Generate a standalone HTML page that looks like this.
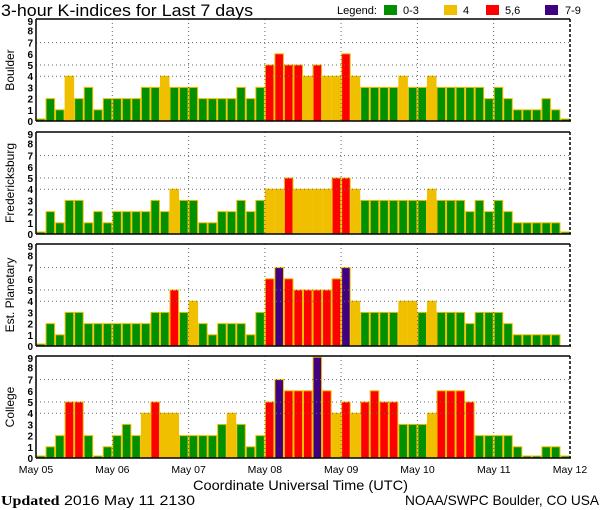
<!DOCTYPE html>
<html><head><meta charset="utf-8"><style>
html,body{margin:0;padding:0;background:#fff;}
svg{display:block;font-family:"Liberation Sans",sans-serif;}
</style></head><body>
<svg id="s" width="600" height="510" xmlns="http://www.w3.org/2000/svg">
<text x="1" y="16" font-size="16.5" textLength="252" lengthAdjust="spacingAndGlyphs" fill="#000">3-hour K-indices for Last 7 days</text>
<text x="337" y="14" font-size="11" textLength="40" lengthAdjust="spacingAndGlyphs">Legend:</text>
<rect x="384" y="5" width="13" height="10" fill="#009000"/><text x="403" y="14" font-size="11">0-3</text>
<rect x="444" y="5" width="13" height="10" fill="#f0c000"/><text x="463" y="14" font-size="11">4</text>
<rect x="486" y="5" width="13" height="10" fill="#ff0000"/><text x="505" y="14" font-size="11">5,6</text>
<rect x="545" y="5" width="13" height="10" fill="#400080"/><text x="565" y="14" font-size="11">7-9</text>
<g font-size="10.5" text-anchor="middle">
<text x="36" y="473">May 05</text><text x="112.3" y="473">May 06</text><text x="188.6" y="473">May 07</text><text x="264.9" y="473">May 08</text><text x="341.2" y="473">May 09</text><text x="417.5" y="473">May 10</text><text x="493.8" y="473">May 11</text><text x="570" y="473">May 12</text>
</g>
<text x="193" y="490" font-size="14" textLength="215" lengthAdjust="spacingAndGlyphs">Coordinate Universal Time (UTC)</text>
<text x="1" y="505" font-size="14" textLength="194" lengthAdjust="spacingAndGlyphs"><tspan font-family="Liberation Serif,serif" font-weight="bold">Updated</tspan> 2016 May 11 2130</text>
<text x="405" y="505" font-size="14" textLength="194" lengthAdjust="spacingAndGlyphs">NOAA/SWPC Boulder, CO USA</text>
<text transform="translate(14,70) rotate(-90)" font-size="12" text-anchor="middle">Boulder</text>
<text transform="translate(14,183) rotate(-90)" font-size="12" text-anchor="middle">Fredericksburg</text>
<text transform="translate(14,295) rotate(-90)" font-size="12" text-anchor="middle">Est. Planetary</text>
<text transform="translate(14,407) rotate(-90)" font-size="12" text-anchor="middle">College</text>
<g id="g"></g>
</svg>
<script>
var data=[
[0,2,1,4,2,3,1,2,2,2,2,3,3,4,3,3,3,2,2,2,2,3,2,3,5,6,5,5,4,5,4,4,6,4,3,3,3,3,4,3,3,4,3,3,3,3,3,2,3,2,1,1,1,2,1,0],
[0,2,1,3,3,1,2,1,2,2,2,2,3,2,4,3,3,1,1,2,2,3,2,3,4,4,5,4,4,4,4,5,5,4,3,3,3,3,3,3,3,4,3,3,3,2,3,2,3,2,1,1,1,1,1,0],
[0,2,1,3,3,2,2,2,2,2,2,2,3,3,5,3,4,2,1,2,2,2,1,3,6,7,6,5,5,5,5,6,7,4,3,3,3,3,4,4,3,4,3,3,3,2,3,3,3,2,1,1,1,1,1,-1],
[0,1,2,5,5,2,0,1,2,3,2,4,5,4,4,2,2,2,2,3,4,3,1,2,5,7,6,6,6,9,6,4,5,4,5,6,5,5,3,3,3,4,6,6,6,5,2,2,2,2,1,0,0,1,1,0]];
var tops=[19,132,244,356],L=36,R=570,W=(R-L)/56,U=11.2,H=102;
var s='';
function col(v){return v<=3?'#009000':v==4?'#f0c000':v<=6?'#ff0000':'#400080';}
for(var p=0;p<4;p++){
 var t=tops[p],b=t+H;
 for(var i=0;i<56;i++){var v=data[p][i];if(v<0)continue;var h=v==0?2:v*U;
  s+='<rect x="'+(L+i*W+0.5).toFixed(2)+'" y="'+(b-h).toFixed(2)+'" width="'+(W-1).toFixed(2)+'" height="'+h.toFixed(2)+'" fill="'+col(v)+'" stroke="#f0c000" stroke-width="1"/>';}
 [4,5,7].forEach(function(k){var y=(b-k*U).toFixed(1);s+='<line x1="'+L+'" x2="'+R+'" y1="'+y+'" y2="'+y+'" stroke="#666" stroke-dasharray="1,3"/>';});
 for(var d=1;d<7;d++){var x=(L+d*8*W).toFixed(1);s+='<line x1="'+x+'" x2="'+x+'" y1="'+t+'" y2="'+b+'" stroke="#666" stroke-dasharray="1,3"/>';}
 s+='<line x1="'+L+'" x2="'+R+'" y1="'+t+'" y2="'+t+'" stroke="#000" stroke-width="1.5"/>';
 s+='<line x1="'+L+'" x2="'+(R+1)+'" y1="'+b+'" y2="'+b+'" stroke="#000" stroke-width="1.5"/>';
 s+='<line x1="'+L+'" x2="'+L+'" y1="'+t+'" y2="'+b+'" stroke="#000" stroke-width="1.5"/>';
 s+='<line x1="'+R+'" x2="'+R+'" y1="'+t+'" y2="'+b+'" stroke="#000" stroke-width="1.5" stroke-dasharray="3,2"/>';
 for(var k=0;k<=9;k++){var y=k<=7?b-k*U:t+(9-k)*9.5+2;s+='<text x="33" y="'+(y+4).toFixed(1)+'" font-size="10" font-weight="bold" text-anchor="end">'+k+'</text>';}
}
document.getElementById('g').innerHTML=s;
</script>
</body></html>
